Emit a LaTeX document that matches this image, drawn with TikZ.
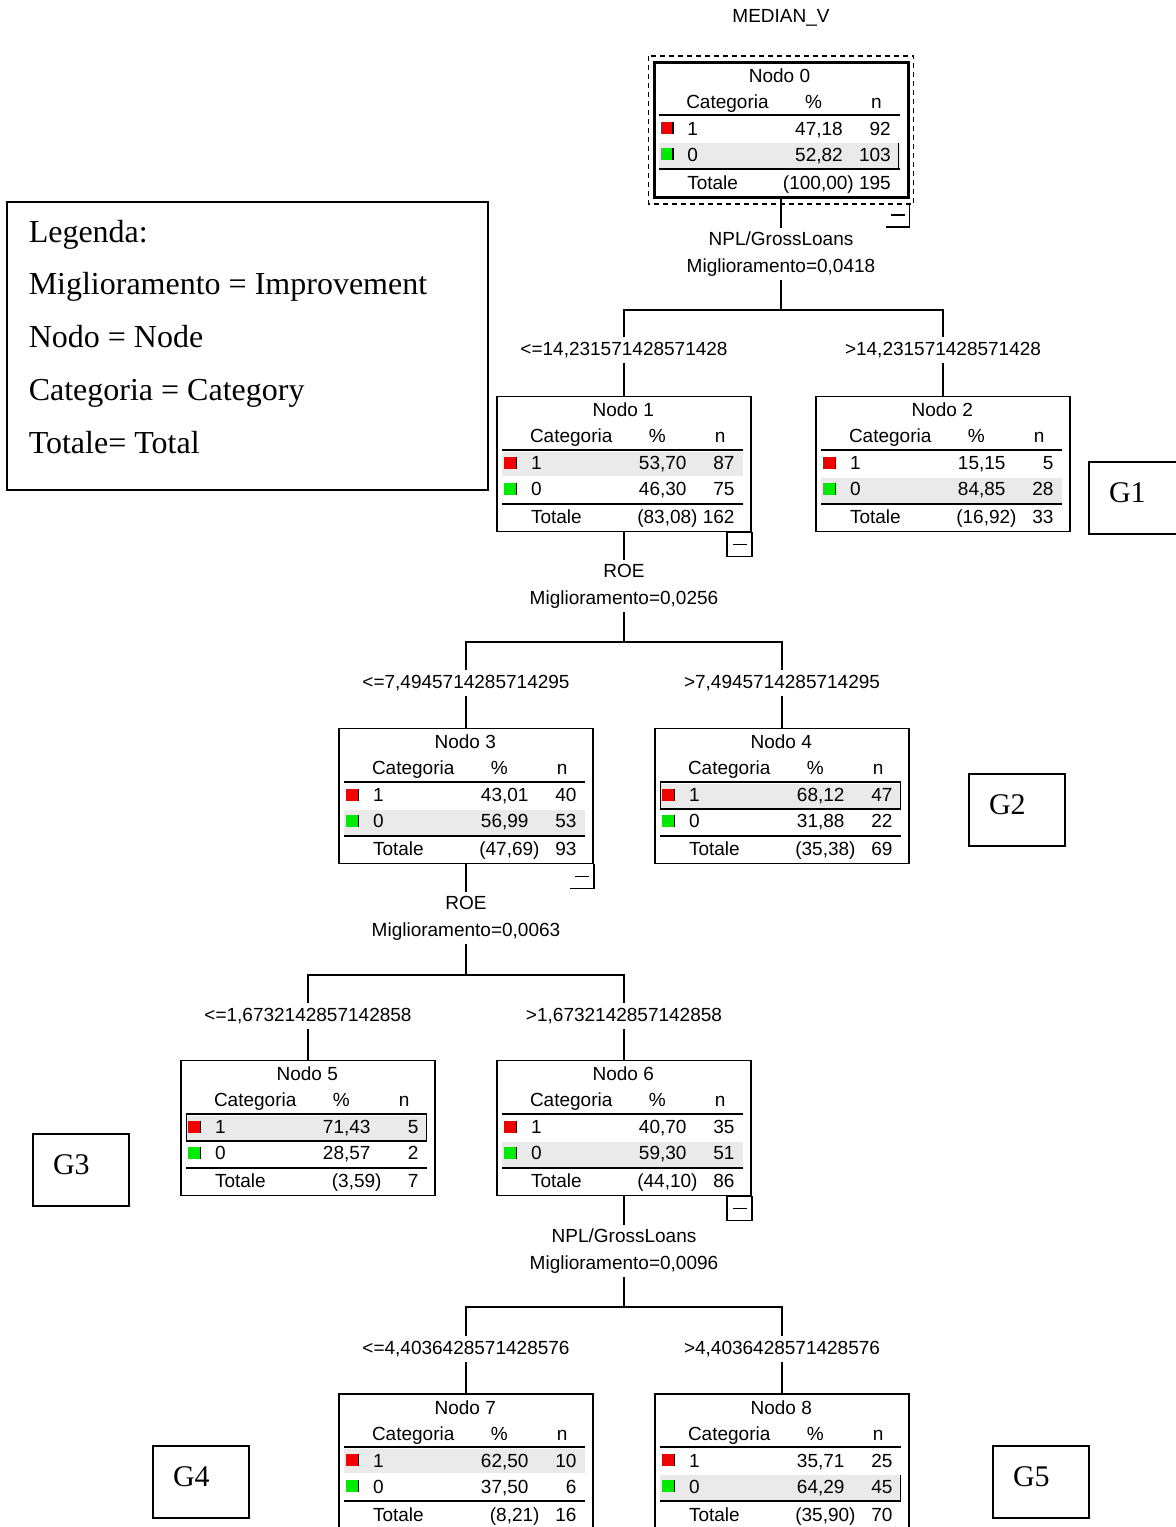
\documentclass[tikz,border=0pt]{standalone}
\usepackage{fontspec}
\setmainfont{Liberation Serif}
\newfontfamily\spssfont{Liberation Sans}
\usetikzlibrary{positioning}
\definecolor{rigagrigia}{RGB}{234,234,234}
\definecolor{rossocat}{RGB}{245,0,0}
\definecolor{verdecat}{RGB}{0,235,0}

% tabella di un nodo: #1 numero, #2 #3 riga 1, #4 #5 riga 0, #6 #7 totale, #8 riga grigia, #9 cornice (0,1,2)
\newcommand{\tabnodo}[9]{%
\begin{scope}[shift={(n#1.north west)}]
	\ifnum#8=1 \fill[rigagrigia] (6,56) rectangle (247,80); \else \fill[rigagrigia] (6,82) rectangle (247,107); \fi
	\ifcase#9 \or \draw (246,82) -- (246,107); \or \draw (6,54) rectangle (246,81); \fi
	\node[tab,anchor=base] (n#1-tit) at (127,21) {Nodo #1};
	\node[tab,anchor=base west] (n#1-cat) at (33,47) {Categoria};
	\node[tab,anchor=base] (n#1-pc) at (161,47) {\%};
	\node[tab,anchor=base] (n#1-n) at (224,47) {n};
	\draw[line width=2pt] (6,54) -- (247,54);
	\draw[line width=2pt] (6,108) -- (247,108);
	\fill[rossocat] (8,61) rectangle (20,73);
	\draw[line width=1.2pt] (20.5,61) -- (20.5,73);
	\fill[verdecat] (8,87) rectangle (20,99);
	\draw[line width=1.2pt] (20.5,87) -- (20.5,99);
	\node[tab,anchor=base west] (n#1-c1) at (34,74) {1};
	\node[tab,anchor=base east] (n#1-p1) at (191,74) {#2};
	\node[tab,anchor=base east] (n#1-q1) at (239,74) {#3};
	\node[tab,anchor=base west] (n#1-c0) at (34,100) {0};
	\node[tab,anchor=base east] (n#1-p0) at (191,100) {#4};
	\node[tab,anchor=base east] (n#1-q0) at (239,100) {#5};
	\node[tab,anchor=base west] (n#1-tot) at (34,128) {Totale};
	\node[tab,anchor=base east] (n#1-pt) at (202,128) {#6};
	\node[tab,anchor=base east] (n#1-qt) at (239,128) {#7};
\end{scope}}

% quadratino col meno sotto un nodo: #1 nodo, #2 scostamento, #3 intero (1) o solo due lati (0)
\newcommand{\meno}[3]{%
\begin{scope}[shift={(#1.south east)}]
	\ifnum#3=1 \draw (-25,#2) rectangle (0,24+#2); \else \draw (0,#2) -- (0,24+#2) -- (-24,24+#2); \fi
	\draw (-19,12+#2) -- (-5,12+#2);
\end{scope}}

\begin{document}
\begin{tikzpicture}[x=1pt,y=-1pt,line width=1.5pt]
	\tikzstyle{every node}=[font=\spssfont\fontsize{19}{27}\selectfont]
	\tikzstyle{nodo}=[draw,minimum width=254pt,minimum height=135pt,inner sep=0pt]
	\tikzstyle{tab}=[inner sep=0pt]
	\tikzstyle{soglia}=[inner sep=4pt]
	\tikzstyle{criterio}=[align=center,inner sep=3pt]
	\tikzstyle{legtesto}=[font=\fontsize{32}{38}\selectfont,inner sep=0pt]
	\tikzstyle{gbox}=[draw,minimum width=96pt,minimum height=72pt,text width=56pt,align=left,inner xsep=20pt,inner ysep=0pt,text depth=10pt,font=\fontsize{30}{30}\selectfont]
	
	\useasboundingbox (0,0) rectangle (1176,1527);
	\clip (0,0) rectangle (1176,1527);
	
	\node (titolo) at (781,18) {MEDIAN\_V};
	
	% nodi dell'albero
	\node[nodo,line width=3pt] (n0) at (781,130) {};
	\node[nodo] (n1) at (624,464) {};
	\node[nodo] (n2) at (943,464) {};
	\node[nodo] (n3) at (466,796) {};
	\node[nodo] (n4) at (782,796) {};
	\node[nodo] (n5) at (308,1128) {};
	\node[nodo] (n6) at (624,1128) {};
	\node[nodo] (n7) at (466,1461.5) {};
	\node[nodo] (n8) at (782,1461.5) {};
	
	\tabnodo{0}{47,18}{92}{52,82}{103}{(100,00)}{195}{2}{1}
	\tabnodo{1}{53,70}{87}{46,30}{75}{(83,08)}{162}{1}{0}
	\tabnodo{2}{15,15}{5}{84,85}{28}{(16,92)}{33}{2}{0}
	\tabnodo{3}{43,01}{40}{56,99}{53}{(47,69)}{93}{2}{0}
	\tabnodo{4}{68,12}{47}{31,88}{22}{(35,38)}{69}{1}{2}
	\tabnodo{5}{71,43}{5}{28,57}{2}{(3,59)}{7}{1}{2}
	\tabnodo{6}{40,70}{35}{59,30}{51}{(44,10)}{86}{2}{0}
	\tabnodo{7}{62,50}{10}{37,50}{6}{(8,21)}{16}{1}{0}
	\tabnodo{8}{35,71}{25}{64,29}{45}{(35,90)}{70}{2}{1}
	
	\draw[dashed,dash pattern=on 5pt off 4pt] ([shift={(-4,-5)}]n0.north west) rectangle ([shift={(4,5)}]n0.south east);
	\meno{n0}{4}{0}
	\meno{n1}{0}{1}
	\meno{n3}{0}{0}
	\meno{n6}{0}{1}
	
	% criteri e soglie
	\node[criterio] (s0) at (781,254) {NPL/GrossLoans\\Miglioramento=0,0418};
	\node[criterio] (s1) at (624,586) {ROE\\Miglioramento=0,0256};
	\node[criterio] (s3) at (466,918) {ROE\\Miglioramento=0,0063};
	\node[criterio] (s6) at (624,1251) {NPL/GrossLoans\\Miglioramento=0,0096};
	
	\node[soglia] (c1) at (624,350) {<=14,231571428571428};
	\node[soglia] (c2) at (943,350) {>14,231571428571428};
	\node[soglia] (c3) at (466,683) {<=7,4945714285714295};
	\node[soglia] (c4) at (782,683) {>7,4945714285714295};
	\node[soglia] (c5) at (308,1016) {<=1,6732142857142858};
	\node[soglia] (c6) at (624,1016) {>1,6732142857142858};
	\node[soglia] (c7) at (466,1349) {<=4,4036428571428576};
	\node[soglia] (c8) at (782,1349) {>4,4036428571428576};
	
	\coordinate (b0) at (781,310);
	\coordinate (b1) at (624,642);
	\coordinate (b3) at (466,975);
	\coordinate (b6) at (624,1307);
	
	% collegamenti
	\draw (n0.south) -- (s0.north);
	\draw (s0.south) -- (b0);
	\draw (c1.north) |- (b0) -| (c2.north);
	\draw (c1.south) -- (n1.north);
	\draw (c2.south) -- (n2.north);
	
	\draw (n1.south) -- (s1.north);
	\draw (s1.south) -- (b1);
	\draw (c3.north) |- (b1) -| (c4.north);
	\draw (c3.south) -- (n3.north);
	\draw (c4.south) -- (n4.north);
	
	\draw (n3.south) -- (s3.north);
	\draw (s3.south) -- (b3);
	\draw (c5.north) |- (b3) -| (c6.north);
	\draw (c5.south) -- (n5.north);
	\draw (c6.south) -- (n6.north);
	
	\draw (n6.south) -- (s6.north);
	\draw (s6.south) -- (b6);
	\draw (c7.north) |- (b6) -| (c8.north);
	\draw (c7.south) -- (n7.north);
	\draw (c8.south) -- (n8.north);
	
	% legenda
	\node[draw,minimum width=481pt,minimum height=288pt,inner sep=0pt] (legenda) at (247.5,346) {};
	\foreach \riga [count=\i] in {Legenda:, Miglioramento = Improvement, Nodo = Node, Categoria = Category, Totale= Total}
		\node[legtesto,anchor=base west] (leg\i) at (28,{242+52.75*(\i-1)}) {\riga};
	
	% gruppi
	\node[gbox] (g1) at (1137,498) {G1};
	\node[gbox] (g2) at (1017,810) {G2};
	\node[gbox] (g3) at (81,1170) {G3};
	\node[gbox] (g4) at (201,1482) {G4};
	\node[gbox] (g5) at (1041,1482) {G5};
\end{tikzpicture}
\end{document}
